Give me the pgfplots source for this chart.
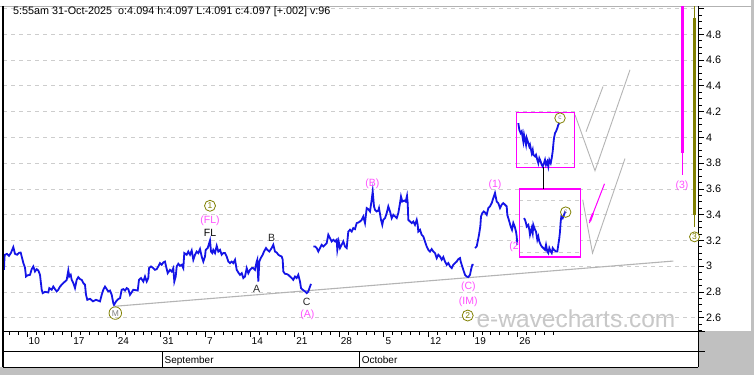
\documentclass[border=0pt]{standalone}
\usepackage{fontspec}
\setmainfont{Liberation Sans}
\usepackage{pgfplots}
\pgfplotsset{compat=1.18}
\definecolor{pblue}{RGB}{20,20,230}
\definecolor{mag}{RGB}{255,0,255}
\definecolor{magtxt}{RGB}{255,80,255}
\definecolor{oliv}{RGB}{128,128,0}
\definecolor{tgray}{RGB}{180,180,180}
\definecolor{gridc}{RGB}{205,205,205}
\definecolor{bggray}{RGB}{192,192,192}
\definecolor{wm}{RGB}{200,200,200}
\definecolor{txtd}{RGB}{40,40,40}
\begin{document}
\begin{tikzpicture}
\useasboundingbox (0,0) rectangle (754pt,375pt);
\begin{scope}[yshift=375pt,x=1pt,y=-1pt]
\fill[bggray] (0,0) rectangle (754,375);
\fill[white] (0,0) rectangle (751,331);
\fill[white] (0,331) rectangle (698,367);
\draw[gray!60, line width=0.8pt] (0,6) -- (751,6);
\end{scope}
\begin{axis}[
  at={(3pt,44pt)}, anchor=south west,
  width=695pt, height=325pt, scale only axis,
  xmin=-2.6906, xmax=75.224, ymin=2.4969, ymax=5.0202,
  axis x line*=bottom, axis y line*=right,
  axis line style={-, black, line width=1pt},
  tick align=outside,
  major tick length=6pt, minor tick length=3.5pt,
  tick style={black, line width=0.8pt},
  xtick={0,5,...,55},
  xticklabels={10,17,24,31,7,14,21,28,5,12,19,26},
  minor xtick={-2,-1,...,59},
  ytick={2.6,2.8,...,4.8},
  minor ytick={2.5,2.55,...,5.0},
  extra y ticks={5.0}, extra y tick labels={},
  extra y tick style={grid=major},
  ymajorgrids,
  grid style={gridc, line width=0.8pt, dash pattern=on 4pt off 4pt},
  xticklabel style={anchor=north west, inner sep=0pt, xshift=1.5pt, yshift=0pt, font=\fontsize{10}{12}\selectfont},
  yticklabel style={anchor=west, inner sep=0pt, xshift=2pt, font=\fontsize{10.8}{12}\selectfont},
  /pgf/number format/.cd, fixed, precision=1, assume math mode=true,
  /pgfplots/.cd,
  clip=false,
]
% watermark
\node[anchor=base, text=wm, font=\fontsize{24.5}{25}\selectfont] at (axis cs:61.547,2.522) {e-wavecharts.com};
% trend line
\addplot[tgray, line width=1.1pt, mark=none] coordinates {(9.865,2.689) (72.455,3.040)};
% projection zigzags
\addplot[tgray, line width=0.9pt, mark=none] coordinates {(61.435,4.175) (63.677,3.741) (67.601,4.525)};
\addplot[tgray, line width=0.9pt, mark=none] coordinates {(62.668,4.044) (64.574,4.395)};
\addplot[tgray, line width=0.9pt, mark=none] coordinates {(62.298,3.516) (63.397,3.102) (67.040,3.836)};
\addplot[mag, line width=1pt, mark=none] coordinates {(63.038,3.335) (64.742,3.640)};
\addplot[mag, line width=2pt, mark=none] coordinates {(63.117,3.349) (63.453,3.411)};
% price segment 1
\addplot[pblue, line width=1.8pt, mark=none] coordinates {
(-2.579,2.972) (-2.522,3.073) (-2.466,3.089) (-2.242,3.096) (-2.018,3.081) (-1.794,3.104) (-1.536,3.148) (-1.345,3.096) (-1.121,3.089) (-0.897,3.104) (-0.706,3.106) (-0.594,3.075) (-0.415,3.026) (-0.224,2.988) (-0.112,2.920) (0.056,2.929) (0.336,2.933) (0.527,2.977) (0.706,2.998) (0.897,2.959) (1.087,2.977) (1.267,2.967) (1.457,2.933) (1.648,2.817) (1.760,2.791) (2.018,2.801) (2.388,2.796) (2.500,2.830) (2.769,2.817) (2.948,2.842) (3.139,2.822) (3.330,2.804) (3.509,2.817) (3.700,2.842) (3.890,2.856) (4.070,2.869) (4.260,2.881) (4.451,2.894) (4.630,2.967) (4.742,2.920) (4.899,2.933) (5.011,2.894) (5.191,2.869) (5.381,2.830) (5.572,2.894) (5.751,2.915) (5.942,2.900) (6.132,2.894) (6.312,2.869) (6.502,2.856) (6.614,2.778) (6.760,2.739) (7.063,2.747) (7.399,2.727) (7.736,2.739) (8.184,2.727) (8.375,2.778) (8.554,2.817) (8.745,2.842) (8.935,2.822) (9.115,2.804) (9.305,2.811) (9.496,2.778) (9.675,2.713) (9.753,2.700) (9.978,2.726) (10.236,2.745) (10.426,2.752) (10.617,2.817) (10.796,2.822) (10.987,2.811) (11.177,2.830) (11.357,2.822) (11.547,2.778) (11.917,2.817) (12.411,2.811) (12.556,2.894) (12.781,2.908) (13.039,2.881) (13.229,2.920) (13.420,2.881) (13.599,2.908) (13.677,2.985) (13.902,2.998) (14.160,2.985) (14.350,2.972) (14.541,2.977) (14.720,2.998) (14.911,3.024) (15.101,3.011) (15.281,3.029) (15.471,3.036) (15.550,3.011) (15.774,2.946) (16.032,2.972) (16.222,2.959) (16.402,2.985) (16.514,2.881) (16.671,2.920) (16.783,2.998) (16.962,3.019) (17.153,3.003) (17.343,3.011) (17.523,2.985) (17.635,3.102) (17.904,3.089) (18.083,3.114) (18.274,3.089) (18.464,3.122) (18.644,3.050) (18.834,3.089) (19.025,3.114) (19.204,3.102) (19.395,3.133) (19.585,3.075) (19.765,3.036) (19.956,3.075) (20.034,3.127) (20.258,3.141) (20.516,3.200) (20.628,3.114) (20.774,3.102) (20.886,3.127) (21.077,3.102) (21.267,3.158) (21.447,3.114) (21.637,3.127) (21.828,3.089) (22.007,3.102) (22.198,3.102) (22.388,3.075) (22.568,3.036) (22.758,3.024) (22.949,3.036) (23.128,3.024) (23.319,3.050) (23.509,2.972) (23.689,2.951) (23.879,2.933) (24.070,2.946) (24.249,2.908) (24.440,2.920) (24.630,2.985) (24.810,2.946) (25.000,2.972) (25.191,2.985) (25.370,2.985) (25.561,2.972) (25.751,3.036) (25.819,3.050) (25.931,2.881) (26.043,3.036) (26.200,3.063) (26.424,3.089) (26.570,3.114) (26.794,3.141) (26.940,3.127) (27.164,3.114) (27.433,3.141) (27.613,3.166) (27.803,3.114) (27.994,3.106) (28.173,3.089) (28.364,3.081) (28.554,3.075) (28.666,3.050) (28.734,2.959) (28.924,2.941) (29.115,2.939) (29.294,2.933) (29.485,2.920) (29.675,2.908) (29.855,2.894) (30.045,2.920) (30.236,2.908) (30.415,2.933) (30.606,2.881) (30.718,2.830) (30.908,2.817) (31.166,2.804) (31.357,2.791) (31.536,2.804) (31.727,2.842) (31.839,2.863)};
% price segment 2
\addplot[pblue, line width=1.8pt, mark=none] coordinates {
(32.097,3.153) (32.288,3.153) (32.478,3.141) (32.658,3.114) (32.848,3.141) (33.039,3.166) (33.218,3.153) (33.409,3.166) (33.599,3.179) (33.779,3.244) (33.969,3.218) (34.160,3.192) (34.339,3.205) (34.530,3.192) (34.720,3.205) (34.787,3.127) (34.944,3.192) (35.090,3.141) (35.280,3.166) (35.460,3.192) (35.650,3.153) (35.841,3.141) (36.020,3.269) (36.211,3.283) (36.402,3.269) (36.581,3.296) (36.771,3.288) (36.962,3.335) (37.141,3.339) (37.332,3.347) (37.522,3.360) (37.702,3.386) (37.892,3.335) (38.083,3.451) (38.262,3.443) (38.453,3.425) (38.643,3.516) (38.755,3.580) (38.901,3.464) (39.013,3.438) (39.204,3.425) (39.383,3.432) (39.462,3.451) (39.686,3.360) (39.832,3.321) (39.944,3.360) (40.135,3.373) (40.325,3.412) (40.504,3.464) (40.695,3.425) (40.886,3.373) (41.065,3.399) (41.256,3.386) (41.446,3.373) (41.626,3.412) (41.816,3.490) (41.928,3.541) (42.074,3.502) (42.298,3.510) (42.455,3.502) (42.601,3.547) (42.679,3.490) (42.747,3.360) (42.937,3.347) (43.128,3.335) (43.307,3.347) (43.498,3.321) (43.688,3.360) (43.800,3.321) (43.868,3.269) (44.058,3.283) (44.249,3.244) (44.428,3.231) (44.619,3.192) (44.809,3.153) (44.989,3.127) (45.180,3.114) (45.370,3.133) (45.550,3.114) (45.740,3.102) (45.931,3.063) (46.110,3.089) (46.301,3.075) (46.491,3.050) (46.671,3.071) (46.861,3.036) (47.052,3.011) (47.231,3.024) (47.422,2.998) (47.612,2.985) (47.792,3.011) (47.982,3.024) (48.173,3.036) (48.352,3.055) (48.543,3.063) (48.621,3.036) (48.913,2.972) (49.103,2.933) (49.294,2.920) (49.473,2.915) (49.664,2.933) (49.776,2.972) (49.922,3.011) (50.079,3.011)};
% price segment 3
\addplot[pblue, line width=1.8pt, mark=none] coordinates {
(50.224,3.141) (50.415,3.153) (50.527,3.192) (50.673,3.244) (50.818,3.308) (50.897,3.386) (51.043,3.412) (51.200,3.425) (51.345,3.417) (51.536,3.399) (51.715,3.451) (51.906,3.464) (52.096,3.490) (52.276,3.529) (52.466,3.568) (52.657,3.502) (52.836,3.490) (53.027,3.451) (53.217,3.477) (53.397,3.490) (53.587,3.477) (53.778,3.464) (53.845,3.399) (54.070,3.347) (54.227,3.308) (54.372,3.283) (54.518,3.335) (54.675,3.308) (54.821,3.269) (54.899,3.231) (54.966,3.166)};
% wave labels
\node[circle, draw=oliv, line width=0.8pt, minimum size=12.5pt, inner sep=0pt, text=gray, font=\fontsize{8.5}{9}\selectfont] at (axis cs:9.899,2.636) {M};
\node[circle, draw=oliv, line width=0.8pt, minimum size=11pt, inner sep=0pt, text=oliv, font=\fontsize{8.5}{9}\selectfont] at (axis cs:20.516,3.469) {1};
\node[text=magtxt, font=\fontsize{10.5}{12}\selectfont] at (axis cs:20.516,3.352) {(FL)};
\node[text=black, font=\fontsize{10.5}{12}\selectfont] at (axis cs:20.516,3.257) {FL};
\node[text=txtd, font=\fontsize{10.5}{12}\selectfont] at (axis cs:25.751,2.825) {A};
\node[text=txtd, font=\fontsize{10.5}{12}\selectfont] at (axis cs:27.433,3.218) {B};
\node[text=txtd, font=\fontsize{10.5}{12}\selectfont] at (axis cs:31.357,2.726) {C};
\node[text=magtxt, font=\fontsize{10.5}{12}\selectfont] at (axis cs:31.424,2.623) {(A)};
\node[text=magtxt, font=\fontsize{10.5}{12}\selectfont] at (axis cs:38.711,3.637) {(B)};
\node[text=magtxt, font=\fontsize{10.5}{12}\selectfont] at (axis cs:49.473,2.838) {(C)};
\node[text=magtxt, font=\fontsize{10.5}{12}\selectfont] at (axis cs:49.473,2.726) {(IM)};
\node[circle, draw=oliv, line width=0.8pt, minimum size=11pt, inner sep=0pt, text=oliv, font=\fontsize{8.5}{9}\selectfont] at (axis cs:49.406,2.617) {2};
\node[text=magtxt, font=\fontsize{10.5}{12}\selectfont] at (axis cs:52.466,3.632) {(1)};
\node[text=magtxt, font=\fontsize{10.5}{12}\selectfont] at (axis cs:54.800,3.147) {(2)};
% inset boxes
\draw[fill=white, draw=none] (axis cs:54.854,4.196) rectangle (axis cs:61.356,3.769);
\draw[fill=white, draw=none] (axis cs:55.191,3.599) rectangle (axis cs:62.074,3.071);
\addplot[gridc, line width=0.8pt, dash pattern=on 4pt off 4pt, mark=none] coordinates {(54.854,4.0) (61.356,4.0)};
\addplot[gridc, line width=0.8pt, dash pattern=on 4pt off 4pt, mark=none] coordinates {(54.854,3.8) (61.356,3.8)};
\addplot[gridc, line width=0.8pt, dash pattern=on 4pt off 4pt, mark=none] coordinates {(55.191,3.510) (62.074,3.510)};
\addplot[gridc, line width=0.8pt, dash pattern=on 4pt off 4pt, mark=none] coordinates {(55.191,3.308) (62.074,3.308)};
\addplot[gridc, line width=0.8pt, dash pattern=on 4pt off 4pt, mark=none] coordinates {(55.191,3.109) (62.074,3.109)};
\draw[mag, line width=1.3pt] (axis cs:54.854,4.196) rectangle (axis cs:61.356,3.769);
\draw[mag, line width=1.3pt] (axis cs:55.191,3.599) rectangle (axis cs:62.074,3.071);
\addplot[black, line width=1pt, mark=none] coordinates {(57.881,3.769) (57.881,3.599)};
% inset price lines
\addplot[pblue, line width=1.8pt, mark=none] coordinates {
(55.080,4.111) (55.192,4.059) (55.348,4.033) (55.460,4.046) (55.572,3.995) (55.640,3.968) (55.718,4.020) (55.830,3.981) (55.942,3.943) (56.020,3.995) (56.200,3.956) (56.312,3.929) (56.390,3.943) (56.581,3.878) (56.693,3.904) (56.760,3.865) (56.951,3.852) (57.063,3.865) (57.209,3.826) (57.321,3.800) (57.433,3.839) (57.590,3.813) (57.702,3.787) (57.814,3.774) (57.960,3.800) (58.072,3.826) (58.184,3.787) (58.330,3.813) (58.442,3.774) (58.554,3.826) (58.711,3.800) (58.823,3.839) (58.935,3.891) (59.002,3.943) (59.081,3.995) (59.193,4.033) (59.305,4.046) (59.451,4.072) (59.563,4.098) (59.675,4.111)};
\addplot[pblue, line width=1.8pt, mark=none] coordinates {
(55.717,3.373) (55.830,3.360) (55.942,3.335) (56.020,3.308) (56.200,3.321) (56.312,3.283) (56.390,3.244) (56.581,3.296) (56.693,3.257) (56.760,3.321) (56.951,3.283) (57.063,3.269) (57.209,3.205) (57.321,3.231) (57.433,3.192) (57.590,3.166) (57.702,3.153) (57.881,3.141) (58.072,3.127) (58.184,3.166) (58.330,3.114) (58.442,3.102) (58.554,3.141) (58.711,3.114) (58.823,3.102) (58.935,3.141) (59.081,3.127) (59.305,3.114) (59.451,3.114) (59.563,3.166) (59.675,3.218) (59.753,3.269) (59.832,3.347) (59.899,3.386) (60.056,3.373) (60.202,3.399) (60.347,3.425)};
\node[circle, draw=oliv, line width=0.8pt, minimum size=10.5pt, inner sep=0pt, text=gray, font=\fontsize{6.5}{7}\selectfont] at (axis cs:59.753,4.150) {c};
\node[circle, draw=oliv, line width=0.8pt, minimum size=10.5pt, inner sep=0pt, text=gray, font=\fontsize{6.5}{7}\selectfont] at (axis cs:60.392,3.420) {c};
% right-hand bars
\addplot[mag, line width=1pt, mark=none] coordinates {(73.486,5.020) (73.486,3.710)};
\addplot[mag, line width=2.6pt, mark=none] coordinates {(73.486,5.020) (73.486,3.878)};
\node[text=magtxt, font=\fontsize{10.5}{12}\selectfont] at (axis cs:73.430,3.624) {(3)};
\addplot[oliv, line width=1pt, mark=none] coordinates {(74.809,5.020) (74.809,3.308)};
\addplot[oliv, line width=3pt, mark=none] coordinates {(74.809,4.926) (74.809,3.399)};
\node[circle, draw=oliv, line width=0.8pt, minimum size=10pt, inner sep=0pt, text=oliv, fill=white, font=\fontsize{8.5}{9}\selectfont] at (axis cs:74.832,3.228) {3};
\end{axis}
\begin{scope}[yshift=375pt,x=1pt,y=-1pt]
\draw[black, line width=1.5pt] (3,6) -- (3,367);
\draw[black, line width=1pt] (698,331) -- (705,331);
\draw[black, line width=1pt] (3,351) -- (705,351);
\draw[black, line width=1pt] (3,367) -- (698,367);
\draw[black, line width=1pt] (698,331) -- (698,367);
\draw[black, line width=1pt] (162.5,351) -- (162.5,367);
\draw[black, line width=1pt] (359.6,351) -- (359.6,367);
\node[anchor=base west, inner sep=0pt, font=\fontsize{10}{12}\selectfont] at (164.5,363) {September};
\node[anchor=base west, inner sep=0pt, font=\fontsize{10}{12}\selectfont] at (361.6,363) {October};
\node[anchor=base west, inner sep=0pt, font=\fontsize{10.8}{13}\selectfont] at (13,15) {5:55am 31-Oct-2025\ \ o:4.094 h:4.097 L:4.091 c:4.097 [+.002] v:96};
\end{scope}
\end{tikzpicture}
\end{document}
